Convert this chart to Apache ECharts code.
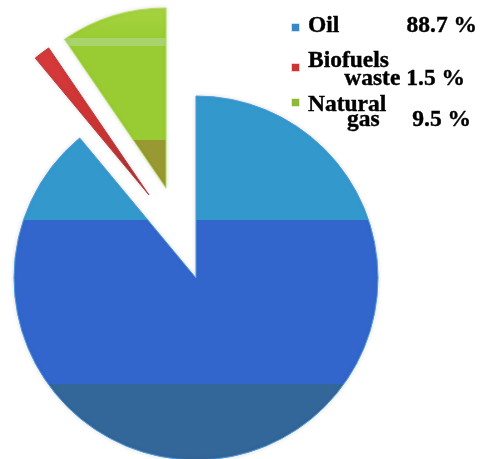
<!DOCTYPE html>
<html>
<head>
<meta charset="utf-8">
<script src="https://cdn.jsdelivr.net/npm/echarts@6/dist/echarts.min.js"></script>
<style>
html,body{margin:0;padding:0;background:#fff;}
#chart{width:490px;height:459px;}
</style>
</head>
<body>
<div id="chart"></div>
<script>
// ---- data ----
const categories = ['Oil', 'Biofuels waste', 'Natural gas'];
const values = [88.7, 1.5, 9.5];
const legendLine1 = ['Oil', 'Biofuels', 'Natural'];
const legendLine2 = ['', 'waste', 'gas'];

// ---- styles ----
const fills = [
  {type:'linear',x:0,y:0,x2:0,y2:1,colorStops:[
    {offset:0,color:'#3399cc'},{offset:0.34,color:'#3399cc'},
    {offset:0.34,color:'#3366cc'},{offset:0.79,color:'#3366cc'},
    {offset:0.79,color:'#336699'},{offset:1,color:'#336699'}]},
  {type:'linear',x:0,y:0,x2:1,y2:0,colorStops:[
    {offset:0,color:'#d83a3a'},{offset:0.6,color:'#cc3333'},{offset:1,color:'#993333'}]},
  {type:'linear',x:0,y:0,x2:0,y2:1,colorStops:[
    {offset:0,color:'#a6d440'},{offset:0.17,color:'#99cc33'},
    {offset:0.17,color:'#a9d46c'},{offset:0.215,color:'#a9d46c'},
    {offset:0.215,color:'#99cc33'},{offset:0.73,color:'#99cc33'},
    {offset:0.73,color:'#999933'},{offset:1,color:'#999933'}]}
];
const borders = ['#4d9be0', '#b84040', '#b5dd5a'];
const iconColors = ['#3a86c8', '#cc3333', '#8fb83a'];
const centers = [[196, 278], [149, 195], [166, 188]];
const radii = [182, 178, 180];

const series = categories.map((c, k) => ({
  type: 'pie',
  center: centers[k],
  radius: [0, radii[k]],
  startAngle: 90,
  clockwise: true,
  silent: true,
  label: {show: false},
  labelLine: {show: false},
  emphasis: {disabled: true},
  animation: false,
  z: k === 0 ? 1 : 2,
  data: categories.map((name, i) => ({
    name: name,
    value: values[i],
    itemStyle: i === k
      ? {color: fills[i], borderColor: borders[i], borderWidth: 1,
         shadowColor: 'rgba(0,0,0,0.12)', shadowBlur: 4}
      : {color: 'rgba(0,0,0,0)', borderWidth: 0}
  }))
}));

// legend built from data arrays
const FONT = 'bold 23.5px "Liberation Serif", "Times New Roman", serif';
const rowTop = [23, 63, 98];          // icon tops
const line1Base = [33, 68, 112];
const line2Base = [33, 86, 127];
const line2Left = [0, 344, 347];
const valueRight = [477, 465, 471];
const txt = (t, x, base, align) => ({type:'text', x: x, y: base - 7,
  style:{text: t, font: FONT, fill:'#000', stroke:'#000', lineWidth: 0.4,
         textAlign: align, textVerticalAlign:'middle'}});
const graphics = [];
categories.forEach((c, i) => {
  graphics.push({type:'rect', left: 291, top: rowTop[i], shape:{width:8,height:8},
    style:{fill: iconColors[i], stroke: 'rgba(255,255,255,0.5)', lineWidth: 1}});
  graphics.push(txt(legendLine1[i], 308, line1Base[i], 'left'));
  const v = values[i].toFixed(1) + ' %';
  if (i === 1) {
    graphics.push(txt(legendLine2[i] + ' ' + v, valueRight[i], line2Base[i], 'right'));
  } else {
    if (legendLine2[i]) graphics.push(txt(legendLine2[i], line2Left[i], line2Base[i], 'left'));
    graphics.push(txt(v, valueRight[i], line2Base[i], 'right'));
  }
});

const chart = echarts.init(document.getElementById('chart'));
chart.setOption({
  backgroundColor: '#ffffff',
  animation: false,
  series: series,
  graphic: graphics
});
</script>
</body>
</html>
